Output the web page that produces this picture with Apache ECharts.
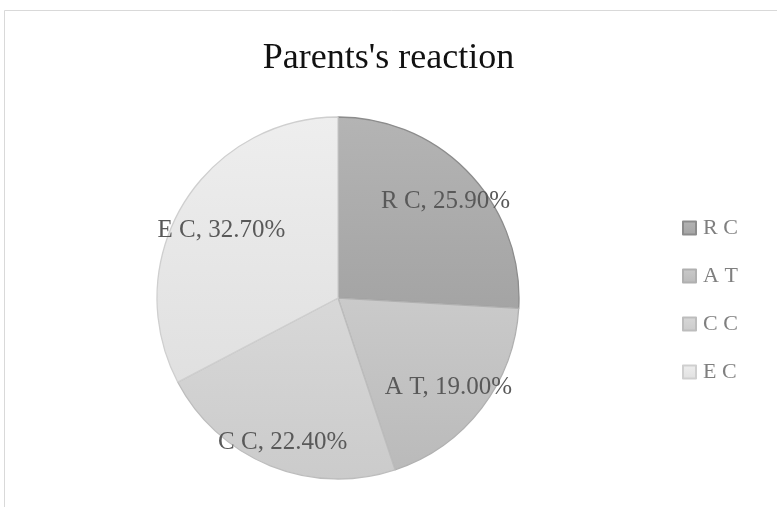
<!DOCTYPE html>
<html>
<head>
<meta charset="utf-8">
<script src="https://cdn.jsdelivr.net/npm/echarts@6/dist/echarts.min.js"></script>
<style>
  html, body { margin: 0; padding: 0; background: #fff; }
  #chart { width: 777px; height: 507px; }
</style>
</head>
<body>
<div id="chart"></div>
<script>
const categories = ['R C', 'A T', 'C C', 'E C']
const shares = [25.9, 19.0, 22.4, 32.7]
// top / bottom shade of each slice, Excel style gradient
const topShades = ['#b4b4b4', '#cacaca', '#d8d8d8', '#eeeeee']
const bottomShades = ['#a4a4a4', '#bababa', '#cbcbcb', '#e0e0e0']
const borderShades = ['#8c8c8c', '#b0b0b0', '#bdbdbd', '#cfcfcf']

const serif = '"Liberation Serif", "DejaVu Serif", serif'
// Excel "best fit" puts labels a bit off the plain ring, nudge them the same way
const labelNudge = [[0, 5], [-7, -1], [0, 7], [10, 9]]

let myChart = echarts.init(document.getElementById('chart'))

let sliceData = categories.map((name, i) => ({
  name: name,
  value: shares[i],
  itemStyle: {
    color: new echarts.graphic.LinearGradient(0, 0, 0, 1, [
      { offset: 0, color: topShades[i] },
      { offset: 1, color: bottomShades[i] }
    ]),
    borderColor: borderShades[i],
    borderWidth: 1.3
  }
}))

let option = {
  backgroundColor: '#fff',
  animation: false,
  title: {
    text: "Parents's reaction",
    left: 'center',
    top: 36,
    textStyle: { fontFamily: serif, fontSize: 36, fontWeight: 'normal', color: '#111' }
  },
  legend: {
    orient: 'vertical',
    left: 677,
    top: 212,
    icon: 'rect',
    itemWidth: 13,
    itemHeight: 13,
    itemGap: 26,
    data: categories,
    textStyle: { fontFamily: serif, fontSize: 22, lineHeight: 22, color: '#7f7f7f', padding: [0, 0, 0, 2] }
  },
  graphic: [{
    type: 'rect',
    shape: { x: 4.5, y: 10.5, width: 800, height: 600 },
    style: { fill: 'none', stroke: '#d9d9d9', lineWidth: 1 },
    silent: true
  }],
  series: [
    {
      name: 'slices',
      type: 'pie',
      center: [338, 298],
      radius: [0, 181],
      startAngle: 90,
      clockwise: true,
      label: { show: false },
      labelLine: { show: false },
      data: sliceData
    },
    {
      // invisible ring used to place labels at ~80% radius, like Excel
      name: 'labels',
      type: 'pie',
      center: [338, 298],
      radius: [109, 181],
      startAngle: 90,
      clockwise: true,
      silent: true,
      itemStyle: { color: 'rgba(0,0,0,0)', borderWidth: 0 },
      label: {
        show: true,
        position: 'inside',
        formatter: p => p.name + ', ' + p.value.toFixed(2) + '%',
        fontFamily: serif,
        fontSize: 25,
        color: '#595959'
      },
      labelLine: { show: false },
      data: categories.map((name, i) => ({
        name: name,
        value: shares[i],
        label: { offset: labelNudge[i] }
      }))
    }
  ]
}
myChart.setOption(option)
</script>
</body>
</html>
